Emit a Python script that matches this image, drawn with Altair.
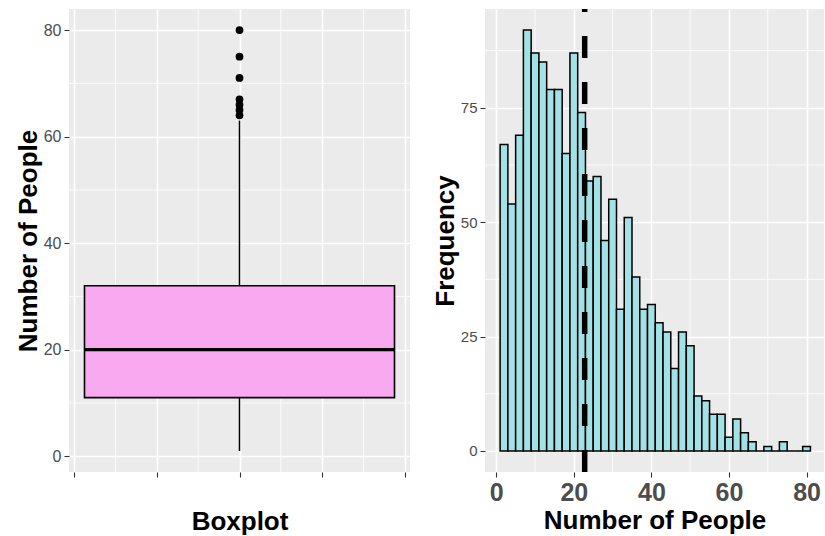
import altair as alt
import pandas as pd

# ---- data -------------------------------------------------------------
# Five-number summary of the number of people, plus points past the whiskers
box_lower = 1
box_q1 = 11
box_median = 20
box_q3 = 32
box_upper = 63
outliers = [64, 65, 66, 67, 71, 75, 80]

# Histogram counts, bins of width 2 starting at 1
bin_start = 1
bin_width = 2
counts = [67, 54, 69, 92, 87, 85, 79, 79, 65, 87,
          74, 59, 60, 46, 55, 31, 51, 38, 31, 32,
          28, 26, 18, 26, 23, 12, 11, 8, 8, 3,
          7, 4, 2, 0, 1, 0, 2, 0, 0, 1]
mean_people = 22.8

# Tick / grid positions
box_x_ticks = [-0.4, -0.2, 0, 0.2, 0.4]
box_x_minor = [-0.3, -0.1, 0.1, 0.3]
box_y_ticks = [0, 20, 40, 60, 80]
box_y_minor = [10, 30, 50, 70]
hist_x_ticks = [0, 20, 40, 60, 80]
hist_x_minor = [10, 30, 50, 70]
hist_y_ticks = [0, 25, 50, 75]
hist_y_minor = [12.5, 37.5, 62.5, 87.5]

# ---- styling ------------------------------------------------------------
FONT = "Liberation Sans"
PANEL_BG = "#EBEBEB"
TICK_LABEL = "#4D4D4D"
BOX_FILL = "#F9A9F0"
HIST_FILL = "#A2E1E6"
BOX_HALF = 0.375

BOX_X_DOMAIN = [-0.4125, 0.4125]
BOX_Y_DOMAIN = [-2.95, 83.95]
HIST_X_DOMAIN = [-2.9, 84.5]
HIST_Y_DOMAIN = [-4.6, 96.6]


def axis_common(**kw):
    base = dict(
        domain=False, grid=True, gridColor="white", gridWidth=1.6,
        tickColor="#333333", tickWidth=1.1, tickSize=5,
        labelFont=FONT, labelColor=TICK_LABEL,
        titleFont=FONT, titleFontSize=26, titleFontWeight="bold",
        titleColor="black",
    )
    base.update(kw)
    return alt.Axis(**base)


# ---- boxplot panel ------------------------------------------------------
bx_scale = alt.Scale(domain=BOX_X_DOMAIN, nice=False, zero=False)
by_scale = alt.Scale(domain=BOX_Y_DOMAIN, nice=False, zero=False)
bx_axis = axis_common(values=box_x_ticks, labels=False, titlePadding=31)
by_axis = axis_common(values=box_y_ticks, labelFontSize=16, labelPadding=3,
                      titlePadding=2)


def bx(field):
    return alt.X(field, type="quantitative", scale=bx_scale, axis=bx_axis,
                 title="Boxplot")


def by(field):
    return alt.Y(field, type="quantitative", scale=by_scale, axis=by_axis,
                 title="Number of People")


box_df = pd.DataFrame({
    "left": [-BOX_HALF], "right": [BOX_HALF], "center": [0.0],
    "lower": [box_lower], "q1": [box_q1], "median": [box_median],
    "q3": [box_q3], "upper": [box_upper],
})
out_df = pd.DataFrame({"center": [0.0] * len(outliers), "value": outliers})
bminor_x = pd.DataFrame({"v": box_x_minor, "ylo": BOX_Y_DOMAIN[0],
                         "yhi": BOX_Y_DOMAIN[1]})
bminor_y = pd.DataFrame({"v": box_y_minor, "xlo": BOX_X_DOMAIN[0],
                         "xhi": BOX_X_DOMAIN[1]})

minor_rule = dict(color="white", strokeWidth=0.8)

b_minor_v = alt.Chart(bminor_x).mark_rule(**minor_rule).encode(
    x=bx("v"), y=by("ylo"), y2="yhi")
b_minor_h = alt.Chart(bminor_y).mark_rule(**minor_rule).encode(
    y=by("v"), x=bx("xlo"), x2="xhi")

whisk_up = alt.Chart(box_df).mark_rule(color="black", strokeWidth=1.5).encode(
    x=bx("center"), y=by("q3"), y2="upper")
whisk_lo = alt.Chart(box_df).mark_rule(color="black", strokeWidth=1.5).encode(
    x=bx("center"), y=by("lower"), y2="q1")
box = alt.Chart(box_df).mark_rect(
    fill=BOX_FILL, stroke="black", strokeWidth=1.6).encode(
    x=bx("left"), x2="right", y=by("q1"), y2="q3")
med = alt.Chart(box_df).mark_rule(color="black", strokeWidth=3.2).encode(
    y=by("median"), x=bx("left"), x2="right")
pts = alt.Chart(out_df).mark_circle(color="black", size=60, opacity=1).encode(
    x=bx("center"), y=by("value"))

left = alt.layer(b_minor_v, b_minor_h, whisk_up, whisk_lo, box, med, pts).properties(
    width=341, height=463)

# ---- histogram panel ----------------------------------------------------
hx_scale = alt.Scale(domain=HIST_X_DOMAIN, nice=False, zero=False)
hy_scale = alt.Scale(domain=HIST_Y_DOMAIN, nice=False, zero=False)
hx_axis = axis_common(values=hist_x_ticks, labelFontSize=25,
                      labelFontWeight="bold", labelPadding=3, titlePadding=2)
hy_axis = axis_common(values=hist_y_ticks, labelFontSize=15, labelPadding=3,
                      titlePadding=2)


def hx(field):
    return alt.X(field, type="quantitative", scale=hx_scale, axis=hx_axis,
                 title="Number of People")


def hy(field):
    return alt.Y(field, type="quantitative", scale=hy_scale, axis=hy_axis,
                 title="Frequency")


starts = [bin_start + i * bin_width for i in range(len(counts))]
hist_df = pd.DataFrame({
    "start": starts,
    "end": [s + bin_width for s in starts],
    "count": counts,
    "base": [0] * len(counts),
})
mean_df = pd.DataFrame({"mean": [mean_people], "ylo": [HIST_Y_DOMAIN[0]],
                        "yhi": [HIST_Y_DOMAIN[1]]})
hminor_x = pd.DataFrame({"v": hist_x_minor, "ylo": HIST_Y_DOMAIN[0],
                         "yhi": HIST_Y_DOMAIN[1]})
hminor_y = pd.DataFrame({"v": hist_y_minor, "xlo": HIST_X_DOMAIN[0],
                         "xhi": HIST_X_DOMAIN[1]})

h_minor_v = alt.Chart(hminor_x).mark_rule(**minor_rule).encode(
    x=hx("v"), y=hy("ylo"), y2="yhi")
h_minor_h = alt.Chart(hminor_y).mark_rule(**minor_rule).encode(
    y=hy("v"), x=hx("xlo"), x2="xhi")
bars = alt.Chart(hist_df).mark_rect(
    fill=HIST_FILL, stroke="black", strokeWidth=1.5).encode(
    x=hx("start"), x2="end", y=hy("base"), y2="count")
mean_line = alt.Chart(mean_df).mark_rule(
    color="black", strokeWidth=5.5, strokeDash=[22, 24]).encode(
    x=hx("mean"), y=hy("ylo"), y2="yhi")

right = alt.layer(h_minor_v, h_minor_h, bars, mean_line).properties(
    width=339, height=463)

# the dashed mean rule's stroke adds ~3px above the panel to the layout bounds
chart = alt.hconcat(left, right, spacing=21).properties(
    padding={"left": 15, "top": 6, "right": 0, "bottom": 0},
    background="white",
).configure_view(fill=PANEL_BG, strokeWidth=0)

chart.save("out.html", embed_options={"renderer": "svg", "actions": False})
